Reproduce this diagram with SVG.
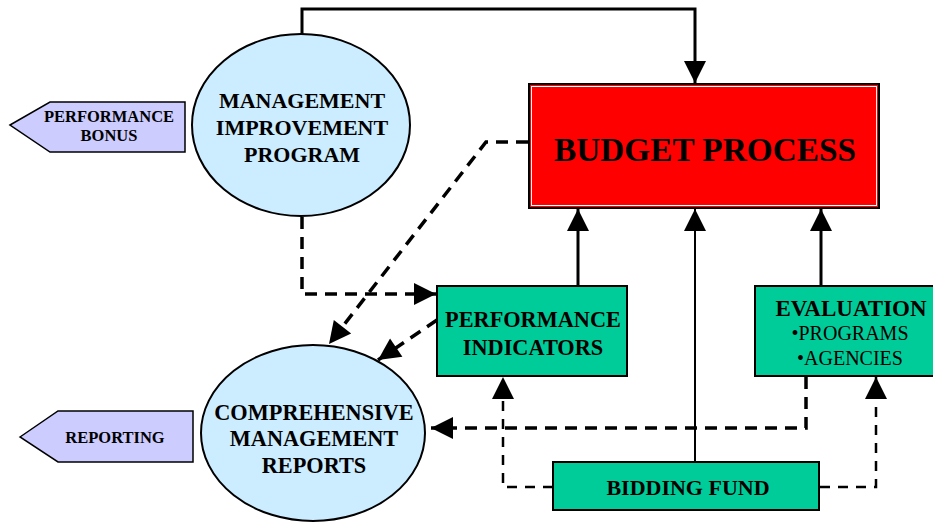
<svg xmlns="http://www.w3.org/2000/svg" width="933" height="525" viewBox="0 0 933 525">
<style>
text{font-family:"Liberation Serif","Times New Roman",serif;font-weight:bold;text-anchor:middle;fill:#000}
text.reg{font-weight:normal}
.ell{fill:#CCECFF;stroke:#000;stroke-width:2}
.grn{fill:#00CC99;stroke:#000;stroke-width:2}
.tag{fill:#CCCCFF;stroke:#000;stroke-width:1.5}
.solid{fill:none;stroke:#000;stroke-width:3}
.thin{fill:none;stroke:#000;stroke-width:2}
.dash{fill:none;stroke:#000;stroke-width:3.5;stroke-dasharray:12,8}
.dashthin{fill:none;stroke:#000;stroke-width:2.5;stroke-dasharray:10,8}
</style>
<defs>
<marker id="ah" markerUnits="userSpaceOnUse" markerWidth="24" markerHeight="22" refX="18" refY="9" orient="auto" viewBox="0 0 18 18">
<path d="M0,0 L18,9 L0,18 Z" fill="#000"/>
</marker>
</defs>
<rect width="933" height="525" fill="#fff"/>
<g id="connectors">
<path class="solid" d="M302,34 V9 H695 V83" marker-end="url(#ah)"/>
<path class="solid" d="M578,286 V209" stroke-width="4" marker-end="url(#ah)"/>
<path class="thin" d="M695,462 V209" marker-end="url(#ah)"/>
<path class="solid" d="M821,286 V209" stroke-width="4" marker-end="url(#ah)"/>
<path class="dash" d="M302,217 V294 H436" marker-end="url(#ah)"/>
<path class="dash" d="M528,142 H486 L329,344" marker-end="url(#ah)"/>
<path class="dash" d="M437,320 L378,360" marker-end="url(#ah)"/>
<path class="dash" d="M806,377 V428 H431" marker-end="url(#ah)"/>
<path class="dashthin" d="M553,487 H503 V377" marker-end="url(#ah)"/>
<path class="dashthin" d="M820,487 H876 V377" marker-end="url(#ah)"/>
</g>
<g id="performance-bonus">
<path class="tag" d="M10,125 L50,102 H185 V152 H50 Z"/>
<text x="109" y="122" font-size="16.5">PERFORMANCE</text>
<text x="109" y="141" font-size="16.5">BONUS</text>
</g>
<g id="reporting">
<path class="tag" d="M20,437 L58,411 H193 V462 H58 Z"/>
<text x="115" y="443" font-size="16.5">REPORTING</text>
</g>
<g id="management-improvement-program">
<ellipse class="ell" cx="301" cy="125" rx="109" ry="91"/>
<text x="302" y="108" font-size="22">MANAGEMENT</text>
<text x="302" y="135" font-size="22">IMPROVEMENT</text>
<text x="302" y="162" font-size="22">PROGRAM</text>
</g>
<g id="comprehensive-management-reports">
<ellipse class="ell" cx="313" cy="433" rx="112" ry="88"/>
<text x="314" y="420" font-size="22.3">COMPREHENSIVE</text>
<text x="314" y="446" font-size="22.3">MANAGEMENT</text>
<text x="314" y="473" font-size="22.3">REPORTS</text>
</g>
<g id="budget-process">
<rect x="529" y="84" width="350" height="124" fill="#FF0000" stroke="#000" stroke-width="2"/>
<rect x="531.5" y="86.5" width="345" height="119" fill="none" stroke="#fff" stroke-width="1"/>
<text x="705" y="161" font-size="33.3">BUDGET PROCESS</text>
</g>
<g id="performance-indicators">
<rect class="grn" x="437" y="286" width="190" height="90"/>
<text x="533" y="327" font-size="22.3">PERFORMANCE</text>
<text x="533" y="355" font-size="22.3">INDICATORS</text>
</g>
<g id="evaluation">
<rect class="grn" x="755" y="286" width="180" height="90"/>
<text x="851" y="316" font-size="23">EVALUATION</text>
<text class="reg" x="850" y="340" font-size="20">•PROGRAMS</text>
<text class="reg" x="850" y="365" font-size="20">•AGENCIES</text>
</g>
<g id="bidding-fund">
<rect class="grn" x="553" y="462" width="266" height="48"/>
<text x="688" y="495" font-size="22">BIDDING FUND</text>
</g>
</svg>
